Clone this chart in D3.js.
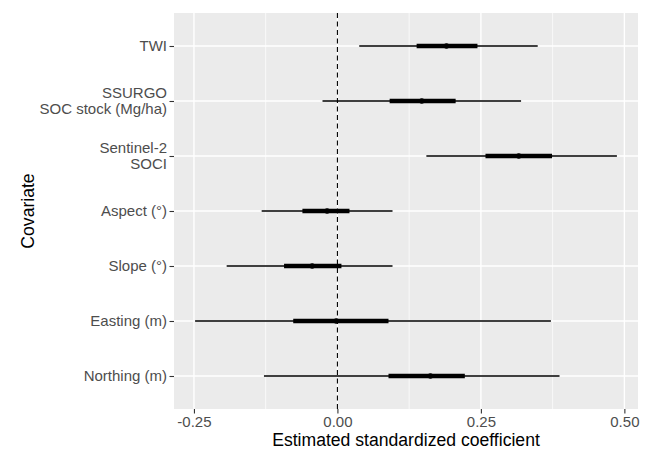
<!DOCTYPE html>
<html>
<head>
<meta charset="utf-8">
<script src="https://cdn.jsdelivr.net/npm/d3@7"></script>
<style>
  body { margin: 0; background: #fff; }
  text { font-family: "Liberation Sans", Arial, sans-serif; }
</style>
</head>
<body>
<svg id="chart" width="651" height="450"></svg>
<script>
"use strict";

// covariates top to bottom, "\n" breaks a label over two lines
var covariates = ["TWI", "SSURGO\nSOC stock (Mg/ha)", "Sentinel-2\nSOCI", "Aspect (°)", "Slope (°)", "Easting (m)", "Northing (m)"];
var estimate  = [0.190, 0.147, 0.316, -0.018, -0.044, -0.002, 0.162];
var innerLow  = [0.138, 0.091, 0.258, -0.061, -0.093, -0.077, 0.089];
var innerHigh = [0.244, 0.206, 0.374, 0.021, 0.007, 0.089, 0.222];
var outerLow  = [0.038, -0.026, 0.155, -0.132, -0.193, -0.248, -0.128];
var outerHigh = [0.349, 0.320, 0.487, 0.096, 0.096, 0.372, 0.387];
var xTicks = [-0.25, 0, 0.25, 0.5];
var xMinor = [-0.125, 0.125, 0.375];

var rows = covariates.map(function(name, i){
  return {name: name, est: estimate[i], lo: innerLow[i], hi: innerHigh[i], lo2: outerLow[i], hi2: outerHigh[i]};
});

var svg = d3.select("#chart"),
    panel = {left: 174, right: 638, top: 13, bottom: 409};

var xmin = d3.min(outerLow), xmax = d3.max(outerHigh), pad = (xmax - xmin) * 0.05;

var x = d3.scaleLinear()
  .domain([xmin - pad, xmax + pad])
  .range([panel.left, panel.right]);

var y = d3.scalePoint()
  .domain(covariates)
  .range([panel.top, panel.bottom])
  .padding(0.6);

// panel background
svg.append("rect")
  .attr("x", panel.left)
  .attr("y", panel.top)
  .attr("width", panel.right - panel.left)
  .attr("height", panel.bottom - panel.top)
  .attr("fill", "#ebebeb");

var grid_g = svg.append("g");

grid_g.selectAll(".minor")
  .data(xMinor)
  .enter().append("line")
  .attr("class", "minor")
  .attr("x1", function(d){ return x(d); })
  .attr("x2", function(d){ return x(d); })
  .attr("y1", panel.top)
  .attr("y2", panel.bottom)
  .attr("stroke", "#fff")
  .attr("stroke-width", 0.7);

grid_g.selectAll(".majorx")
  .data(xTicks)
  .enter().append("line")
  .attr("class", "majorx")
  .attr("x1", function(d){ return x(d); })
  .attr("x2", function(d){ return x(d); })
  .attr("y1", panel.top)
  .attr("y2", panel.bottom)
  .attr("stroke", "#fff")
  .attr("stroke-width", 1.4);

grid_g.selectAll(".majory")
  .data(covariates)
  .enter().append("line")
  .attr("class", "majory")
  .attr("x1", panel.left)
  .attr("x2", panel.right)
  .attr("y1", function(d){ return y(d); })
  .attr("y2", function(d){ return y(d); })
  .attr("stroke", "#fff")
  .attr("stroke-width", 1.4);

// zero reference
svg.append("line")
  .attr("x1", x(0))
  .attr("x2", x(0))
  .attr("y1", panel.top)
  .attr("y2", panel.bottom)
  .attr("stroke", "#000")
  .attr("stroke-width", 1.1)
  .attr("stroke-dasharray", "5,3.5");

var marks_g = svg.append("g");

var row_g = marks_g.selectAll(".row")
  .data(rows)
  .enter().append("g")
  .attr("class", "row");

row_g.append("line")
  .attr("x1", function(d){ return x(d.lo2); })
  .attr("x2", function(d){ return x(d.hi2); })
  .attr("y1", function(d){ return y(d.name); })
  .attr("y2", function(d){ return y(d.name); })
  .attr("stroke", "#000")
  .attr("stroke-width", 1.4);

row_g.append("line")
  .attr("x1", function(d){ return x(d.lo); })
  .attr("x2", function(d){ return x(d.hi); })
  .attr("y1", function(d){ return y(d.name); })
  .attr("y2", function(d){ return y(d.name); })
  .attr("stroke", "#000")
  .attr("stroke-width", 4.5);

row_g.append("circle")
  .attr("cx", function(d){ return x(d.est); })
  .attr("cy", function(d){ return y(d.name); })
  .attr("r", 2.8)
  .attr("fill", "#000");

// x axis
var fmt = d3.format(".2f");
var xAxis = d3.axisBottom(x)
  .tickValues(xTicks)
  .tickSize(4.5)
  .tickPadding(3)
  .tickFormat(function(d){ return fmt(d).replace("\u2212", "-"); });

var xa = svg.append("g")
  .attr("transform", "translate(0," + panel.bottom + ")")
  .call(xAxis);
xa.select(".domain").remove();
xa.selectAll(".tick line").attr("stroke", "#333").attr("stroke-width", 1.1);
xa.selectAll(".tick text")
  .attr("fill", "#4d4d4d")
  .attr("font-size", "15px")
  .attr("font-family", "Liberation Sans, Arial, sans-serif");

// y axis, labels drawn by hand to allow two lines
var ya = svg.append("g")
  .attr("transform", "translate(" + panel.left + ",0)")
  .call(d3.axisLeft(y).tickSize(4.5).tickFormat(""));
ya.select(".domain").remove();
ya.selectAll(".tick line").attr("stroke", "#333").attr("stroke-width", 1.1);

var lab_g = svg.append("g");
covariates.forEach(function(name){
  var lines = name.split("\n"),
      lh = 16,
      t = lab_g.append("text")
        .attr("text-anchor", "end")
        .attr("font-size", "15px")
        .attr("fill", "#4d4d4d");
  lines.forEach(function(line, j){
    t.append("tspan")
      .attr("x", panel.left - 7)
      .attr("y", y(name) + 5.3 + (j - (lines.length - 1) / 2) * lh)
      .text(line);
  });
});

// axis titles
svg.append("text")
  .attr("x", (panel.left + panel.right) / 2)
  .attr("y", 445.5)
  .attr("text-anchor", "middle")
  .attr("font-size", "17.6px")
  .attr("fill", "#000")
  .text("Estimated standardized coefficient");

svg.append("text")
  .attr("transform", "translate(34," + (panel.top + panel.bottom) / 2 + ") rotate(-90)")
  .attr("text-anchor", "middle")
  .attr("font-size", "17.6px")
  .attr("fill", "#000")
  .text("Covariate");
</script>
</body>
</html>
